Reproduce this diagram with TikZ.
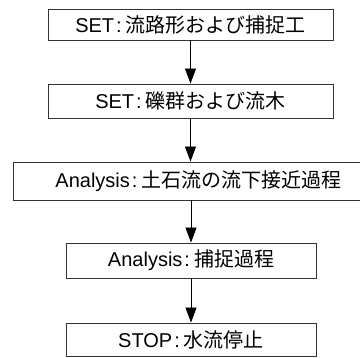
\documentclass[tikz,border=0pt]{standalone}
\usepackage{fontspec}
\setmainfont{Liberation Sans}
\newfontfamily\cjk{Noto Sans CJK JP}
\usetikzlibrary{arrows.meta}
\newcommand{\sep}{\hspace{2pt}:\hspace{4pt}}
\begin{document}
\begin{tikzpicture}[x=1pt,y=-1pt,
  box/.style={draw=black!80,line width=0.9pt,rectangle,inner sep=0pt,
    font=\fontsize{20}{22}\selectfont},
  flow/.style={line width=0.9pt,-{Triangle[length=15pt,width=11pt]}}]
\useasboundingbox (0,0) rectangle (360,358);
\node[box,minimum width=285pt,minimum height=31pt] (b1) at (190.5,24.5) {SET\sep\cjk 流路形および捕捉工};
\node[box,minimum width=285pt,minimum height=34pt] (b2) at (190.5,101) {SET\sep\cjk 礫群および流木};
\node[box,minimum height=38pt,text width=305pt,align=left,inner xsep=42pt,anchor=west] (b3) at (13,181) {Analysis\sep\cjk 土石流の流下接近過程};
\node[box,minimum width=250pt,minimum height=35pt] (b4) at (191,260.5) {Analysis\sep\cjk 捕捉過程};
\node[box,minimum width=250pt,minimum height=33pt] (b5) at (191,339.5) {STOP\sep\cjk 水流停止};
\draw[flow] (b1.south) -- (b2.north);
\draw[flow] (b2.south) -- (b2.south |- b3.north);
\draw[flow] (b4.north |- b3.south) -- (b4.north);
\draw[flow] (b4.south) -- (b5.north);
\end{tikzpicture}
\end{document}
